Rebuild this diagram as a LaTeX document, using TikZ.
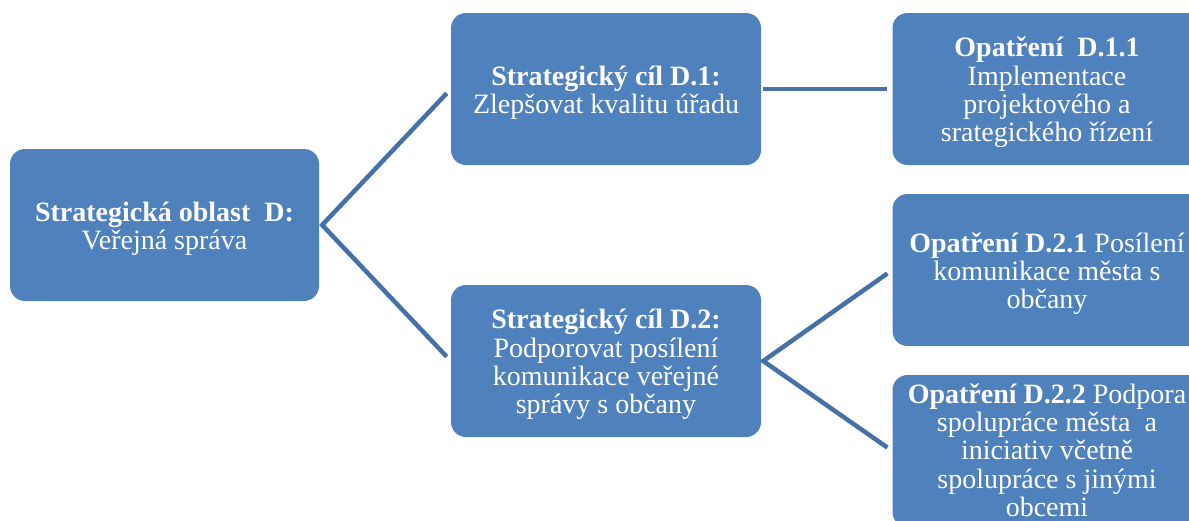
\documentclass[tikz,border=0pt]{standalone}
\usepackage{fontspec}
\setmainfont{Liberation Serif}
\definecolor{boxblue}{HTML}{4F81BD}
\definecolor{lineblue}{HTML}{4671A8}
\begin{document}
\begin{tikzpicture}[x=1pt,y=-1pt,
  box/.style={fill=boxblue, rounded corners=15pt, minimum width=309pt, minimum height=152pt, inner sep=0pt},
  txt/.style={text=white, align=center, inner sep=0pt, font=\fontsize{28}{28.3}\selectfont},
  conn/.style={draw=lineblue, line width=4.5pt, line join=miter}]
\useasboundingbox (0,0) rectangle (1189,520);
\clip (0,0) rectangle (1189,520);
\node[box] (A) at (164.5,225) {};
\node[box, minimum width=310pt] (B) at (606,89) {};
\node[box, minimum width=310pt] (C) at (606,361) {};
\node[box] (D) at (1047,89) {};
\node[box] (E) at (1047,270) {};
\node[box] (F) at (1047,451) {};
\node[txt] (At) at ([yshift=-3.5pt]A.center) {\textbf{Strategická oblast\ \ D:}\\Veřejná správa};
\node[txt] (Bt) at ([yshift=-3.5pt]B.center) {\textbf{Strategický cíl D.1:}\\Zlepšovat kvalitu úřadu};
\node[txt] (Ct) at ([yshift=-3.5pt]C.center) {\textbf{Strategický cíl D.2:}\\Podporovat posílení\\komunikace veřejné\\správy s občany};
\node[txt] (Dt) at ([yshift=-3.5pt]D.center) {\textbf{Opatření\ \ D.1.1}\\Implementace\\projektového a\\srategického řízení};
\node[txt] (Et) at ([yshift=-3.5pt]E.center) {\textbf{Opatření D.2.1} Posílení\\komunikace města s\\občany};
\node[txt] (Ft) at ([yshift=1pt]F.center) {\textbf{Opatření D.2.2} Podpora\\spolupráce města\ \ a\\iniciativ včetně\\spolupráce s jinými\\obcemi};
\coordinate (a1) at ([xshift=3pt]A.east);
\coordinate (c1) at ([xshift=2pt]C.east);
\draw[conn, shorten <=6pt, shorten >=6pt] (B.west) -- (a1) -- (C.west);
\draw[conn, shorten <=2pt, shorten >=5pt] (B.east) -- (D.west);
\draw[conn, shorten <=6pt, shorten >=6pt] (E.west) -- (c1) -- (F.west);
\end{tikzpicture}
\end{document}
